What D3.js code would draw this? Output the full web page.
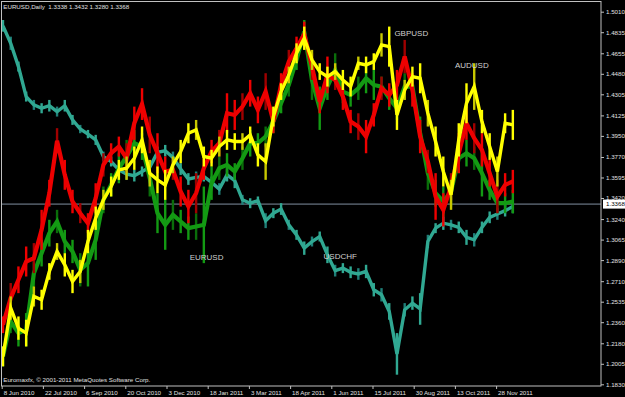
<!DOCTYPE html>
<html><head><meta charset="utf-8">
<script src="https://cdn.jsdelivr.net/npm/d3@7"></script>
<style>html,body{margin:0;background:#000;overflow:hidden}svg{display:block}</style>
</head><body>
<svg id="c" width="625" height="397"></svg>
<script>
const xTickLabels = ["8 Jun 2010","22 Jul 2010","6 Sep 2010","20 Oct 2010","3 Dec 2010","18 Jan 2011","3 Mar 2011","18 Apr 2011","1 Jun 2011","15 Jul 2011","30 Aug 2011","13 Oct 2011","28 Nov 2011"];
const yTickLabels = ["1.5010","1.4835","1.4655","1.4480","1.4305","1.4125","1.3950","1.3770","1.3595","1.3420","1.3240","1.3065","1.2890","1.2710","1.2535","1.2360","1.2180","1.2005","1.1830"];
const header = "EURUSD,Daily  1.3338 1.3432 1.3280 1.3368";
const lastPrice = 1.3368;
const seriesNames = ["EURUSD","GBPUSD","AUDUSD","USDCHF"];

// one sample every 6 daily bars: high / low of each series (in chart price units)
const eurusdHi = [1.2153,1.2466,1.2381,1.2438,1.2892,1.3063,1.3234,1.3319,1.3148,1.3063,1.2949,1.3063,1.3234,1.3518,1.3632,1.3802,1.3916,1.4001,1.3973,1.3745,1.3461,1.3404,1.3404,1.3319,1.3262,1.3290,1.3518,1.3689,1.3774,1.3802,1.3717,1.3859,1.4001,1.3973,1.4030,1.4172,1.4314,1.4485,1.4684,1.4939,1.4598,1.4371,1.4485,1.4655,1.4428,1.4399,1.4456,1.4570,1.4513,1.4456,1.4371,1.4286,1.4485,1.4456,1.4115,1.3774,1.3575,1.3518,1.3603,1.3887,1.3916,1.3859,1.3831,1.3575,1.3461,1.3461,1.3490];
const eurusdLo = [1.1983,1.2267,1.2153,1.2153,1.2665,1.2836,1.3006,1.3120,1.2949,1.2864,1.2665,1.2665,1.2892,1.3290,1.3433,1.3546,1.3632,1.3774,1.3745,1.3433,1.3120,1.2978,1.3148,1.3120,1.3063,1.3063,1.2864,1.3404,1.3575,1.3603,1.3575,1.3660,1.3774,1.3802,1.3859,1.3973,1.4143,1.4286,1.4513,1.4740,1.4257,1.4001,1.4257,1.4371,1.4229,1.4200,1.4257,1.4314,1.4257,1.4286,1.4172,1.4086,1.4257,1.4286,1.3831,1.3490,1.3347,1.3262,1.3347,1.3632,1.3689,1.3660,1.3433,1.3404,1.3290,1.3290,1.3290];
const gbpusdHi = [1.2409,1.2694,1.2836,1.3006,1.3035,1.3319,1.3575,1.4016,1.3745,1.3490,1.3376,1.3290,1.3546,1.3802,1.3887,1.3944,1.3887,1.4200,1.4357,1.4115,1.3973,1.3774,1.3745,1.3603,1.3490,1.3632,1.3774,1.3916,1.4001,1.4314,1.4257,1.4314,1.4428,1.4286,1.4485,1.4172,1.4485,1.4684,1.4797,1.4925,1.4655,1.4342,1.4627,1.4513,1.4399,1.4172,1.4143,1.4086,1.4229,1.4456,1.4399,1.4513,1.4769,1.4485,1.4086,1.3831,1.3632,1.3461,1.3632,1.3973,1.4200,1.4058,1.3973,1.3745,1.3575,1.3632,1.3660];
const gbpusdLo = [1.2267,1.2438,1.2608,1.2750,1.2779,1.2978,1.3347,1.3802,1.3490,1.3290,1.3205,1.3120,1.3290,1.3603,1.3717,1.3774,1.3632,1.3916,1.4086,1.3802,1.3632,1.3518,1.3575,1.3347,1.3205,1.3290,1.3575,1.3717,1.3774,1.3973,1.4001,1.4086,1.4200,1.4058,1.4172,1.3973,1.4286,1.4485,1.4598,1.4712,1.4428,1.4143,1.4314,1.4342,1.4172,1.3973,1.3916,1.3802,1.4030,1.4257,1.4200,1.4257,1.4485,1.4200,1.3802,1.3632,1.3234,1.3177,1.3404,1.3632,1.3916,1.3802,1.3689,1.3518,1.3290,1.3433,1.3461];
const audusdHi = [1.2153,1.2580,1.2409,1.2381,1.2665,1.2637,1.2864,1.3035,1.2949,1.2807,1.2892,1.3148,1.3347,1.3490,1.3603,1.3745,1.3774,1.3859,1.4030,1.3745,1.3689,1.3660,1.3774,1.3916,1.4058,1.4086,1.3859,1.3831,1.3944,1.4001,1.3973,1.3973,1.4030,1.3887,1.3887,1.4200,1.4399,1.4541,1.4740,1.4883,1.4684,1.4570,1.4541,1.4570,1.4513,1.4456,1.4627,1.4627,1.4655,1.4826,1.4883,1.4257,1.4428,1.4541,1.4570,1.4257,1.4030,1.3774,1.3575,1.4058,1.4399,1.4570,1.4172,1.3973,1.3774,1.4143,1.4172];
const audusdLo = [1.1983,1.2381,1.2210,1.2153,1.2494,1.2466,1.2722,1.2892,1.2750,1.2608,1.2694,1.2949,1.3148,1.3319,1.3433,1.3575,1.3575,1.3660,1.3802,1.3518,1.3461,1.3404,1.3632,1.3717,1.3887,1.3916,1.3689,1.3689,1.3774,1.3831,1.3831,1.3831,1.3887,1.3689,1.3575,1.4030,1.4257,1.4399,1.4570,1.4684,1.4513,1.4428,1.4371,1.4428,1.4342,1.4286,1.4513,1.4485,1.4513,1.4627,1.4541,1.4001,1.4257,1.4371,1.4314,1.4030,1.3774,1.3518,1.3319,1.3774,1.4058,1.4172,1.3973,1.3745,1.3518,1.3973,1.3916];
const usdchfHi = [1.4939,1.4797,1.4584,1.4328,1.4257,1.4229,1.4257,1.4200,1.4257,1.4129,1.4044,1.4001,1.3959,1.3816,1.3774,1.3703,1.3674,1.3660,1.3689,1.3731,1.3859,1.3873,1.3816,1.3717,1.3632,1.3646,1.3646,1.3603,1.3546,1.3674,1.3632,1.3447,1.3418,1.3433,1.3290,1.3333,1.3376,1.3234,1.3148,1.3049,1.3091,1.3134,1.3006,1.2850,1.2864,1.2836,1.2821,1.2850,1.2694,1.2651,1.2523,1.2267,1.2523,1.2580,1.2608,1.3106,1.3205,1.3262,1.3234,1.3219,1.3148,1.3120,1.3219,1.3305,1.3333,1.3362,1.3404];
const usdchfLo = [1.4840,1.4684,1.4499,1.4243,1.4172,1.4143,1.4158,1.4115,1.4158,1.4044,1.3973,1.3930,1.3873,1.3731,1.3689,1.3617,1.3575,1.3561,1.3603,1.3632,1.3760,1.3774,1.3717,1.3617,1.3532,1.3546,1.3561,1.3504,1.3447,1.3561,1.3504,1.3362,1.3333,1.3362,1.3163,1.3248,1.3276,1.3148,1.3063,1.2935,1.3006,1.3049,1.2864,1.2750,1.2779,1.2736,1.2722,1.2736,1.2580,1.2537,1.2381,1.1912,1.2409,1.2466,1.2338,1.2992,1.3120,1.3148,1.3148,1.3120,1.3020,1.3006,1.3120,1.3205,1.3234,1.3262,1.3290];

const svg = d3.select("#c");
svg.append("rect").attr("width",625).attr("height",397).attr("fill","#000");
const L=1.5, T=1.5, R=601, B=386;
const y = d3.scaleLinear().domain([1.1830,1.5010]).range([384.3,11.7]);
const x = d3.scaleLinear().domain([0,32]).range([1.7,42.9]);
const barOf = i => i*6+1;

svg.append("clipPath").attr("id","clip").append("rect").attr("x",L).attr("y",T).attr("width",R-L).attr("height",B-T);
const g = svg.append("g").attr("clip-path","url(#clip)");

// price line
g.append("line").attr("x1",L).attr("x2",R).attr("y1",y(lastPrice)).attr("y2",y(lastPrice)).attr("stroke","#8090a0").attr("stroke-width",1);

const series = [
  {hi:usdchfHi, lo:usdchfLo, c:"#30a892", d:"#1f7f78", w:3.4},
  {hi:eurusdHi, lo:eurusdLo, c:"#139a13", d:"#0a6e0a", w:4.2},
  {hi:gbpusdHi, lo:gbpusdLo, c:"#ee0000", d:"#a00000", w:4.2},
  {hi:audusdHi, lo:audusdLo, c:"#ffff00", d:"#c8c800", w:3.4}
];
series.forEach(s=>{
  const sg = g.append("g");
  // high-low range bars at each sample
  sg.selectAll("rect").data(s.hi).join("rect")
    .attr("x",(d,i)=>x(barOf(i))-1.2).attr("width",2.4)
    .attr("y",d=>y(d)).attr("height",(d,i)=>Math.max(1,y(s.lo[i])-y(d)))
    .attr("fill",(d,i)=> i%3===1 ? s.d : s.c);
  // body line through the middle of each range
  const line = d3.line().x((d,i)=>x(barOf(i))).y((d,i)=>y((d+s.lo[i])/2));
  sg.append("path").datum(s.hi).attr("d",line).attr("fill","none").attr("stroke",s.c).attr("stroke-width",s.w).attr("stroke-linejoin","miter");
});

// frame
svg.append("rect").attr("x",L).attr("y",T).attr("width",R-L).attr("height",B-T).attr("fill","none").attr("stroke","#c0c0c0").attr("stroke-width",1);

const font = "Liberation Sans, Arial, sans-serif";
// y axis
const yAxis = d3.axisRight(y).tickValues(yTickLabels.map(Number)).tickFormat((d,i)=>yTickLabels[i]).tickSize(3).tickPadding(2);
const ya = svg.append("g").attr("transform",`translate(${R},0)`).call(yAxis);
ya.select(".domain").remove();
ya.selectAll("line").attr("stroke","#c0c0c0");
ya.selectAll("text").attr("fill","#e0e0e0").style("font-family",font).style("font-size","6.2px");

// x axis
const xAxis = d3.axisBottom(x).tickValues(xTickLabels.map((d,i)=>i*32)).tickFormat((d,i)=>xTickLabels[i]).tickSize(3);
const xa = svg.append("g").attr("transform",`translate(0,${B})`).call(xAxis);
xa.select(".domain").remove();
xa.selectAll("line").attr("stroke","#c0c0c0");
xa.selectAll("text").attr("fill","#e0e0e0").attr("text-anchor","start").attr("x",1.5).attr("y",9.3).attr("dy",0).style("font-family",font).style("font-size","6.2px");

// last price box
const py = y(lastPrice);
svg.append("rect").attr("x",R+2).attr("y",py-4.5).attr("width",22).attr("height",9).attr("fill","#ffffff");
svg.append("text").attr("x",R+5).attr("y",py+2.2).text(lastPrice.toFixed(4)).attr("fill","#000").style("font-family",font).style("font-size","6.2px");

// header / footer
svg.append("text").attr("x",3.3).attr("y",9).text(header).attr("fill","#e0e0e0").style("font-family",font).style("font-size","6.2px").style("white-space","pre");
svg.append("text").attr("x",3.3).attr("y",382.3).text("Euromaxfx, © 2001-2011 MetaQuotes Software Corp.").attr("fill","#e0e0e0").style("font-family",font).style("font-size","6.2px");

// series labels
const labelPos = [{bar:146, p:1.2890},{bar:305, p:1.4806},{bar:352, p:1.4530},{bar:250, p:1.2900}];
seriesNames.forEach((n,i)=>{
  svg.append("text").attr("x",x(labelPos[i].bar)).attr("y",y(labelPos[i].p)).text(n).attr("fill","#d0d0d0").style("font-family",font).style("font-size","8px");
});
</script>
</body></html>
